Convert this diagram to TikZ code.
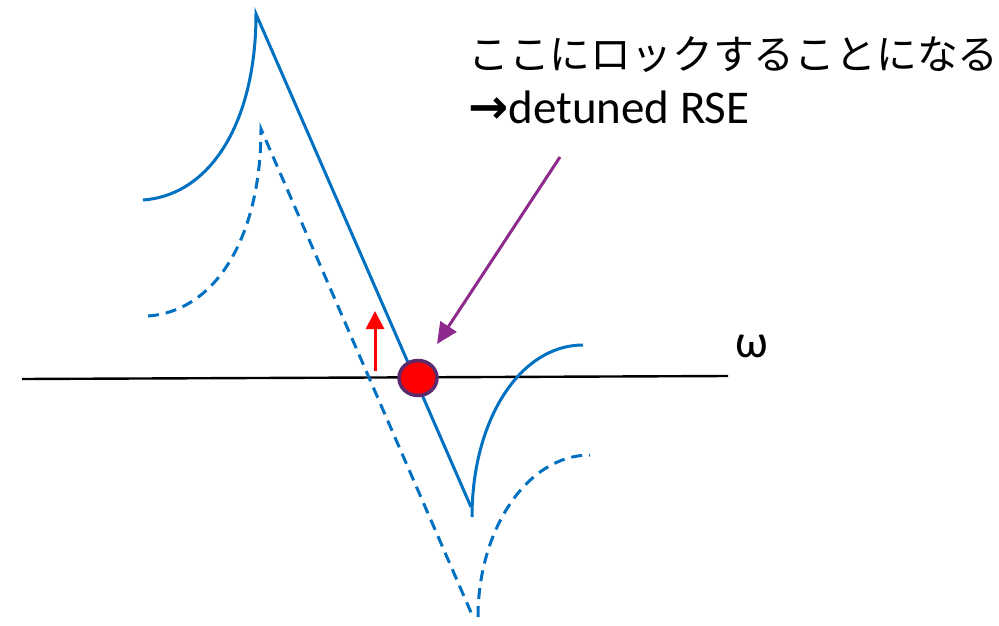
\documentclass[tikz,border=0pt]{standalone}
\usepackage{fontspec}
\setmainfont{Carlito}
\newfontfamily\jp{Noto Sans CJK JP}
\newfontfamily\arr{DejaVu Sans}
\usetikzlibrary{arrows.meta,shapes.geometric}
\definecolor{lineblue}{HTML}{0070C0}
\definecolor{arrpurple}{HTML}{8E2A8E}
\definecolor{dotedge}{HTML}{5E2A6E}
\tikzset{
  curve/.style={lineblue, line width=3pt},
  dcurve/.style={curve, dash pattern=on 11pt off 7pt},
  axisline/.style={black, line width=2.4pt},
  label/.style={inner sep=0pt, font=\fontsize{47}{52}\selectfont},
}
\begin{document}
\begin{tikzpicture}[x=1pt, y=-1pt]
\useasboundingbox (0,0) rectangle (999,626);
% axis
\coordinate (axL) at (22,379);
\coordinate (axR) at (728,376);
\draw[axisline] (axL) -- (axR);
\node[label, anchor=base west] (omega) at (735,357) {ω};
% solid curve
\coordinate (sL) at (143,200);
\coordinate (sP) at (256,14);
\coordinate (sB) at (471,507);
\coordinate (sB2) at (472,517);
\coordinate (sR) at (583,345);
\draw[curve] (sL) .. controls (212,195) and (256,120) .. (sP) -- (sB);
\draw[curve] (sB2) .. controls (472,420) and (520,345) .. (sR);
% dashed curve
\coordinate (dL) at (148,316);
\coordinate (dP) at (261,129);
\coordinate (dB) at (473,617);
\coordinate (dB2) at (478,617);
\coordinate (dR) at (590,455);
\draw[dcurve] (dL) .. controls (217,311) and (261,235) .. (dP) -- (dB);
\draw[dcurve] (dB2) .. controls (478,530) and (527,455) .. (dR);
% red arrow
\coordinate (rA) at (375,371);
\coordinate (rB) at (375,311);
\draw[red, line width=3pt, -{Triangle[length=18pt, width=18pt]}] (rA) -- (rB);
% red dot
\node[draw=dotedge, fill=red, line width=3.5pt, ellipse, minimum width=38pt, minimum height=35pt, inner sep=0pt] (dot) at (418,378) {};
% purple arrow
\coordinate (pA) at (560,157);
\coordinate (pB) at (437,344);
\draw[arrpurple, line width=3pt, -{Triangle[length=21pt, width=19pt]}] (pA) -- (pB);
% text
\node[label, anchor=base west, font=\jp\fontsize{40.8}{48}\selectfont] (jptext) at (468,70) {ここにロックすることになる};
\node[label, anchor=base west] (entext) at (468,123) {{\arr\bfseries\fontsize{48}{52}\selectfont →}detuned RSE};
\end{tikzpicture}
\end{document}
